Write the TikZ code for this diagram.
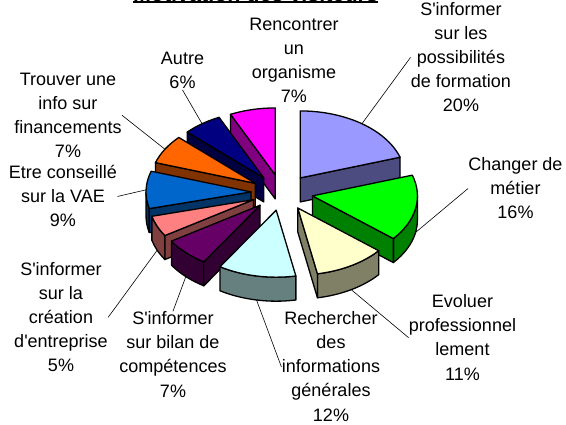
\documentclass[tikz,border=0pt]{standalone}
\usepackage{fontspec}
\setmainfont{Liberation Sans}[Ligatures=TeXOff]

\definecolor{formation}{HTML}{9999FF}
\definecolor{metier}{HTML}{00FF00}
\definecolor{evoluer}{HTML}{FFFFCC}
\definecolor{infos}{HTML}{CCFFFF}
\definecolor{bilan}{HTML}{660066}
\definecolor{creation}{HTML}{FF8080}
\definecolor{vae}{HTML}{0066CC}
\definecolor{financement}{HTML}{FF6600}
\definecolor{autre}{HTML}{000080}
\definecolor{organisme}{HTML}{FF00FF}

\tikzset{part/.style={draw=black,line width=1.3pt,line join=round},
  lbl/.style={font=\fontsize{18}{24}\selectfont,align=center,inner sep=0pt,anchor=base},
  lead/.style={line width=.6pt}}

\begin{document}
\begin{tikzpicture}[scale=0.0351459804]
\useasboundingbox (0,0) rectangle (566,424);

\node[font=\fontsize{21.5}{26}\selectfont\bfseries,inner sep=0pt,anchor=base] (title) at (255.5,422) {Motivation des visiteurs};
\draw[line width=2pt] ([yshift=-3pt]title.base west)--([yshift=-3pt]title.base east);

\begin{scope}[shift={(282,231.5)}]
% slices from the back to the front, angles counterclockwise
\foreach \a/\b/\col in {90/115.2/organisme, 18/90/formation, 115.2/136.8/autre,
    136.8/162/financement, -198/-165.6/vae, -39.6/18/metier, -165.6/-147.6/creation,
    -147.6/-122.4/bilan, -79.2/-39.6/evoluer, -122.4/-79.2/infos}{%
  \pgfmathsetmacro\m{(\a+\b)/2}
  \pgfmathsetmacro\wa{max(\a,-180)}
  \pgfmathsetmacro\wb{min(\b,0)}
  \pgfmathsetmacro\ca{cos(\a)}
  \pgfmathsetmacro\cb{cos(\b)}
  \pgfmathsetmacro\dy{sin(\m)<0 ? -24 : 0}
  \begin{scope}[shift={({31*cos(\m)},{18*sin(\m)})}]
    % outer wall, front half only
    \ifdim\wa pt<\wb pt
      \filldraw[part,fill=\col!50!black] (\wa:105 and 67) arc[start angle=\wa,end angle=\wb,x radius=105,y radius=67]
        -- ++(0,-24) arc[start angle=\wb,end angle=\wa,x radius=105,y radius=67] -- cycle;
    \fi
    % cut faces
    \ifdim\ca pt>0.01pt
      \filldraw[part,fill=\col!50!black] (0,0) -- (\a:105 and 67) -- ++(0,-24) -- (0,-24) -- cycle;
    \fi
    \ifdim\cb pt<-0.01pt
      \filldraw[part,fill=\col!50!black] (0,0) -- (\b:105 and 67) -- ++(0,-24) -- (0,-24) -- cycle;
    \fi
    \filldraw[part,fill=\col] (0,0) -- (\a:105 and 67) arc[start angle=\a,end angle=\b,x radius=105,y radius=67] -- cycle;
    \path (\m:105 and 67) ++(0,\dy) coordinate (s-\col);
  \end{scope}
}
\end{scope}

% labels, placed by the baseline of their last line
\node[lbl] (organisme) at (294,321) {Rencontrer\\un\\organisme\\7\%};
\node[lbl] (formation) at (461,312) {S'informer\\sur les\\possibilités\\de formation\\20\%};
\node[lbl] (metier) at (515.5,205) {Changer de\\métier\\16\%};
\node[lbl] (evoluer) at (462.5,44) {Evoluer\\professionnel\\lement\\11\%};
\node[lbl] (infos) at (331,3) {Rechercher\\des\\informations\\générales\\12\%};
\node[lbl] (bilan) at (173,27) {S'informer\\sur bilan de\\compétences\\7\%};
\node[lbl] (creation) at (61,52.5) {S'informer\\sur la\\création\\d'entreprise\\5\%};
\node[lbl] (vae) at (63,197) {Etre conseillé\\sur la VAE\\9\%};
\node[lbl] (financement) at (68,266.5) {Trouver une\\info sur\\financements\\7\%};
\node[lbl] (autre) at (182.5,335) {Autre\\6\%};

% leader lines
\draw[lead] (s-formation) -- ([xshift=-10pt]formation.west) -- ([xshift=-4pt]formation.west);
\draw[lead] (s-metier) -- ([xshift=-8pt]metier.west) -- ([xshift=-2pt]metier.west);
\draw[lead] (s-evoluer) -- ([xshift=-10pt]evoluer.west) -- ([xshift=-3pt]evoluer.west);
\draw[lead] (s-infos) -- ([xshift=-15pt]infos.west) -- ([xshift=-6pt]infos.west);
\draw[lead] (s-bilan) -- ([yshift=17pt]bilan.north) -- ([yshift=10pt]bilan.north);
\draw[lead] (s-creation) -- ([xshift=11pt]creation.east) -- ([xshift=4pt]creation.east);
\draw[lead] (s-vae) -- ([xshift=10pt]vae.east) -- ([xshift=4pt]vae.east);
\draw[lead] (s-financement) -- ([xshift=10pt]financement.east) -- ([xshift=3pt]financement.east);
\draw[lead] (s-autre) -- ([yshift=-17pt]autre.south) -- ([yshift=-12pt]autre.south);

\end{tikzpicture}
\end{document}
